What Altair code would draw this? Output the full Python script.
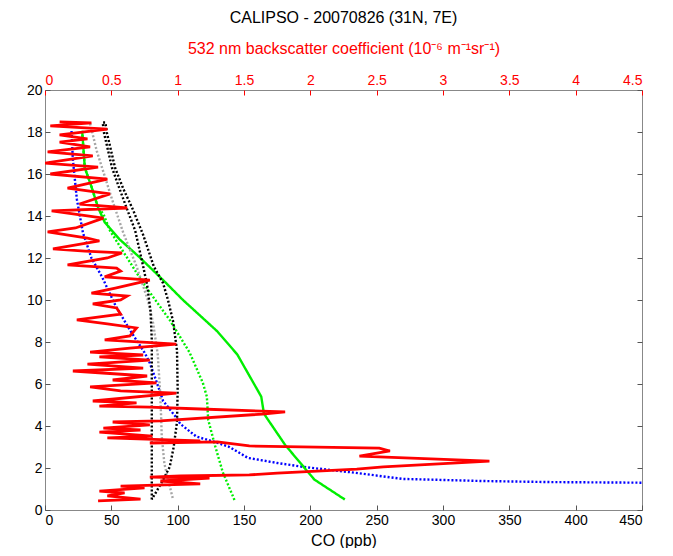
import altair as alt
import pandas as pd

# ---------------- data ----------------
# CO profiles (ppb) vs altitude (km)
blue_co  = [20, 21, 24, 28.6, 35, 43, 53, 64, 75, 79, 83, 89, 99, 102, 114, 130, 139, 153, 175, 195, 230, 270, 330, 380, 450]
blue_alt = [18.05, 16.7, 14.8, 13.2, 12.0, 11.1, 9.75, 8.57, 7.5, 7.0, 6.3, 5.2, 4.4, 4.1, 3.5, 3.2, 3.0, 2.48, 2.24, 2.05, 1.8, 1.48, 1.38, 1.33, 1.3]

gsolid_co  = [28, 30, 35, 40, 45, 56, 71, 89, 104, 130, 145, 163, 165, 167, 181, 203, 226]
gsolid_alt = [18.05, 16.3, 15.4, 14.4, 13.7, 12.9, 12.05, 10.95, 10.0, 8.5, 7.4, 5.4, 4.6, 4.4, 3.1, 1.45, 0.5]

gdot_co  = [28, 30, 35, 40, 44, 49, 61.5, 74, 94, 109, 119, 122, 123, 128, 134, 143]
gdot_alt = [18.05, 16.3, 15.4, 14.4, 14.1, 13.3, 12.05, 10.8, 9.05, 7.5, 6.05, 5.4, 4.3, 3.1, 1.8, 0.45]

gray_co  = [34, 39, 45, 50.5, 59, 69, 77.5, 81.5, 85, 86.7, 87.5, 88, 90, 93, 96.5]
gray_alt = [18.4, 17.1, 15.9, 14.8, 13.2, 11.6, 10.0, 8.9, 7.4, 5.7, 4.5, 3.5, 2.2, 1.4, 0.5]

black_co  = [80.5, 80.5, 80.5, 80.5, 79.5, 77, 74, 68, 62, 55, 50.5, 44.5, 43.5,
             45.5, 46.7, 52.8, 59, 66.3, 74, 82, 89, 92.7, 96.5, 99.5, 100, 99.5, 97, 94, 89, 80.5]
black_alt = [0.5, 3.0, 6.0, 8.1, 9.5, 10.7, 11.6, 13.3, 14.3, 15.5, 16.3, 17.95, 18.45,
             18.45, 17.95, 16.3, 15.3, 14.3, 13.1, 11.6, 10.8, 10.0, 9.0, 7.6, 5.7, 4.2, 3.0, 2.05, 1.43, 0.5]

# 532 nm backscatter (1e-6 /m/sr) vs altitude (km)
red_b = [0.40, 0.72, 0.47, 0.60, 0.41, 0.75, 0.57, 1.17, 0.87, 1.24, 0.79, 1.02, 1.54, 1.75, 2.35,
         2.55, 3.35, 2.37, 2.60, 2.52, 1.54, 1.30, 0.79, 1.17, 0.47, 0.81, 0.41, 0.72, 0.44, 0.79,
         0.51, 0.87, 1.64, 1.81, 1.17, 0.79, 0.41, 0.69, 0.36, 0.99, 0.57, 0.34, 0.84, 0.51, 0.77,
         0.21, 0.74, 0.32, 0.79, 0.41, 0.74, 0.34, 0.64, 0.99, 0.45, 0.64, 0.69, 0.47, 0.24, 0.57,
         0.54, 0.36, 0.57, 0.62, 0.35, 0.53, 0.79, 0.45, 0.57, 0.54, 0.17, 0.47, 0.58, 0.30, 0.06,
         0.41, 0.32, 0.02, 0.23, 0.44, 0.05, 0.62, 0.26, 0.49, 0.17, 0.47, 0.04, 0.40, 0.00, 0.36,
         0.02, 0.34, 0.11, 0.32, 0.11, 0.47, 0.04, 0.35, 0.11]
red_alt = [0.43, 0.52, 0.67, 0.81, 0.90, 1.05, 1.14, 1.24, 1.38, 1.52, 1.57, 1.62, 1.67, 1.76, 1.95,
           2.05, 2.33, 2.57, 2.81, 2.95, 3.05, 3.24, 3.19, 3.29, 3.43, 3.52, 3.71, 3.81, 3.90, 4.05,
           4.19, 4.24, 4.57, 4.67, 4.81, 4.90, 4.95, 5.10, 5.19, 5.57, 5.67, 5.86, 6.05, 6.19, 6.38,
           6.62, 6.76, 6.95, 7.14, 7.29, 7.38, 7.52, 7.71, 7.90, 8.10, 8.29, 8.67, 8.86, 9.05, 9.33,
           9.62, 9.81, 10.0, 10.19, 10.33, 10.57, 10.95, 11.10, 11.38, 11.52, 11.67, 12.0, 12.24, 12.33, 12.43,
           12.81, 12.95, 13.24, 13.43, 13.90, 14.24, 14.38, 14.57, 15.05, 15.33, 15.76, 16.0, 16.33, 16.52, 16.86,
           17.05, 17.29, 17.52, 17.67, 17.86, 18.14, 18.29, 18.43, 18.48]

series_names = ["blue", "green_solid", "green_dot", "gray", "black"]
series_colors = ["#0000ff", "#00ee00", "#00ee00", "#a6a6a6", "#000000"]
series_dash = [[2, 2], [1, 0], [2, 2], [2, 2], [2, 2]]
series_width = [2.4, 2.4, 2.2, 2.0, 2.2]

# ---------------- tables ----------------
rows = []
for name, xs, ys in [("blue", blue_co, blue_alt), ("green_solid", gsolid_co, gsolid_alt),
                     ("green_dot", gdot_co, gdot_alt), ("gray", gray_co, gray_alt),
                     ("black", black_co, black_alt)]:
    for i, (x, y) in enumerate(zip(xs, ys)):
        rows.append({"series": name, "co": x, "alt": y, "idx": i})
co_df = pd.DataFrame(rows)
red_df = pd.DataFrame({"b": red_b, "alt": red_alt, "idx": list(range(len(red_b)))})

FONT = "Liberation Sans"
TICK = 5

co_layer = alt.Chart(co_df).mark_line(clip=True).encode(
    x=alt.X("co:Q",
            scale=alt.Scale(domain=[0, 450], nice=False, zero=False),
            axis=alt.Axis(orient="bottom", values=list(range(0, 451, 50)), title="CO (ppb)",
                          offset=-TICK, tickSize=TICK, domain=False, grid=False,
                          labelPadding=3, titlePadding=5, tickColor="#555555", labelColor="black",
                          titleColor="black")),
    y=alt.Y("alt:Q",
            scale=alt.Scale(domain=[0, 20], nice=False),
            axis=alt.Axis(orient="left", values=list(range(0, 21, 2)), title=None,
                          offset=-TICK, tickSize=TICK, domain=False, grid=False,
                          labelPadding=3, tickColor="#555555", labelColor="black")),
    color=alt.Color("series:N", scale=alt.Scale(domain=series_names, range=series_colors), legend=None),
    strokeDash=alt.StrokeDash("series:N", scale=alt.Scale(domain=series_names, range=series_dash), legend=None),
    strokeWidth=alt.StrokeWidth("series:N", scale=alt.Scale(domain=series_names, range=series_width), legend=None),
    order="idx:Q",
)

red_layer = alt.Chart(red_df).mark_line(clip=True, color="#ff0000", strokeWidth=2.8).encode(
    x=alt.X("b:Q",
            scale=alt.Scale(domain=[0, 4.5], nice=False, zero=False),
            axis=alt.Axis(orient="top", values=[0, 0.5, 1, 1.5, 2, 2.5, 3, 3.5, 4, 4.5], format="~g",
                          title="532 nm backscatter coefficient (10⁻⁶ m⁻¹sr⁻¹)",
                          offset=-TICK, tickSize=TICK, domain=False, grid=False,
                          labelPadding=3, titlePadding=17, tickColor="#ff0000",
                          labelColor="#ff0000", titleColor="#ff0000")),
    y=alt.Y("alt:Q",
            scale=alt.Scale(domain=[0, 20], nice=False),
            axis=alt.Axis(orient="right", values=list(range(0, 21, 2)), title=None, labels=False,
                          offset=-TICK, tickSize=TICK, domain=False, grid=False, tickColor="#555555")),
    order="idx:Q",
)

chart = alt.layer(co_layer, red_layer).resolve_scale(
    x="independent", y="independent"
).properties(
    width=597, height=420,
    autosize=alt.AutoSizeParams(type="none"),
    padding={"left": 37, "top": 82, "right": 23, "bottom": 38},
    title=alt.TitleParams("CALIPSO - 20070826 (31N, 7E)", font=FONT, fontSize=16,
                          fontWeight="normal", color="black", anchor="middle", offset=14),
).configure(
    background="white"
).configure_view(
    stroke="#888888", strokeWidth=1
).configure_axis(
    labelFont=FONT, titleFont=FONT, labelFontSize=14, titleFontSize=16, titleFontWeight="normal"
)

chart.save("out.html", embed_options={"renderer": "svg", "actions": False})
